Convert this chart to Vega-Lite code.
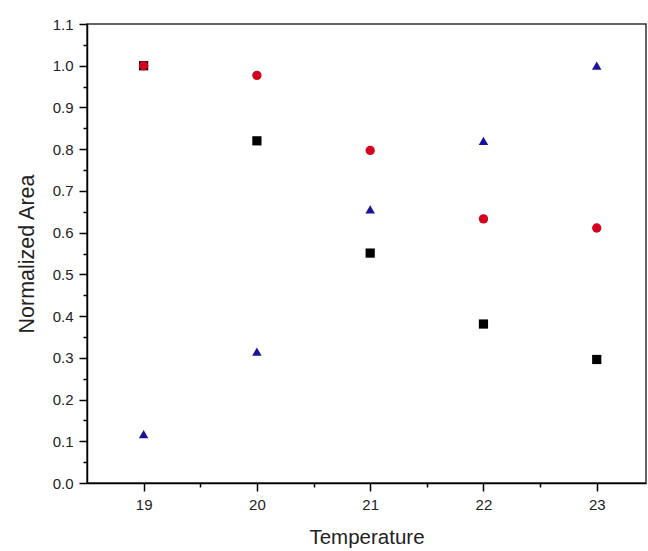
{
  "$schema": "https://vega.github.io/schema/vega-lite/v6.json",
  "width": 559,
  "height": 459,
  "autosize": "none",
  "padding": {"left": 87, "top": 24, "right": 2, "bottom": 68},
  "background": "white",
  "config": {
    "font": "Liberation Sans",
    "view": {"stroke": "#333333", "strokeWidth": 1.5},
    "axis": {
      "domainColor": "#000000",
      "domainWidth": 1.5,
      "tickColor": "#000000",
      "tickWidth": 1.5,
      "labelColor": "#222222",
      "titleColor": "#222222",
      "labelFont": "Liberation Sans",
      "titleFont": "Liberation Sans",
      "labelFontSize": 15,
      "titleFontWeight": "normal",
      "grid": false,
      "labelOverlap": false,
      "labelBound": false,
      "labelFlush": false
    }
  },
  "data": {
    "values": [
      {"temperature": 19, "area": 1.0, "series": "A"},
      {"temperature": 20, "area": 0.82, "series": "A"},
      {"temperature": 21, "area": 0.551, "series": "A"},
      {"temperature": 22, "area": 0.381, "series": "A"},
      {"temperature": 23, "area": 0.296, "series": "A"},
      {"temperature": 19, "area": 0.117, "series": "C"},
      {"temperature": 20, "area": 0.315, "series": "C"},
      {"temperature": 21, "area": 0.656, "series": "C"},
      {"temperature": 22, "area": 0.82, "series": "C"},
      {"temperature": 23, "area": 1.0, "series": "C"},
      {"temperature": 19, "area": 1.0, "series": "B"},
      {"temperature": 20, "area": 0.977, "series": "B"},
      {"temperature": 21, "area": 0.797, "series": "B"},
      {"temperature": 22, "area": 0.633, "series": "B"},
      {"temperature": 23, "area": 0.611, "series": "B"}
    ]
  },
  "mark": {"type": "point", "filled": true, "opacity": 1, "strokeWidth": 0},
  "encoding": {
    "x": {
      "field": "temperature",
      "type": "quantitative",
      "scale": {"domain": [18.5, 23.435], "nice": false, "zero": false},
      "axis": {
        "title": "Temperature",
        "titleFontSize": 20.5,
        "values": [19, 19.5, 20, 20.5, 21, 21.5, 22, 22.5, 23],
        "labelExpr": "datum.value % 1 === 0 ? format(datum.value, 'd') : ''",
        "tickSize": {"condition": {"test": "datum.value % 1 !== 0", "value": 4}, "value": 8},
        "labelPadding": 6,
        "titlePadding": 15
      }
    },
    "y": {
      "field": "area",
      "type": "quantitative",
      "scale": {"domain": [0, 1.1], "nice": false, "zero": true},
      "axis": {
        "title": "Normalized Area",
        "titleFontSize": 21.5,
        "values": [0, 0.05, 0.1, 0.15, 0.2, 0.25, 0.3, 0.35, 0.4, 0.45, 0.5, 0.55, 0.6, 0.65, 0.7, 0.75, 0.8, 0.85, 0.9, 0.95, 1.0, 1.05, 1.1],
        "labelExpr": "abs(round(datum.value * 10) - datum.value * 10) > 0.01 ? '' : format(datum.value, '.1f')",
        "tickSize": {"condition": {"test": "abs(round(datum.value * 10) - datum.value * 10) > 0.01", "value": 4}, "value": 8},
        "labelPadding": 6,
        "titlePadding": 14
      }
    },
    "shape": {
      "field": "series",
      "type": "nominal",
      "scale": {"domain": ["A", "B", "C"], "range": ["square", "circle", "triangle-up"]},
      "legend": null
    },
    "color": {
      "field": "series",
      "type": "nominal",
      "scale": {"domain": ["A", "B", "C"], "range": ["#000000", "#d4001f", "#1c0f9e"]},
      "legend": null
    },
    "size": {
      "field": "series",
      "type": "nominal",
      "scale": {"domain": ["A", "B", "C"], "range": [85, 90, 125]},
      "legend": null
    }
  }
}
